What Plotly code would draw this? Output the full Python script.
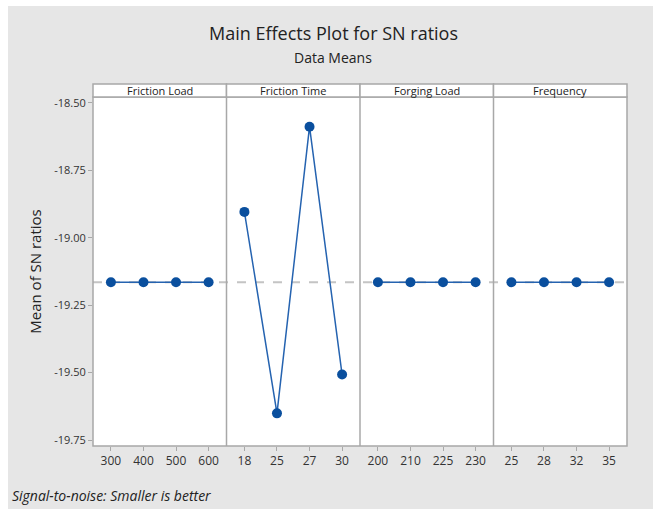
import plotly.graph_objects as go
from plotly.subplots import make_subplots

factors = ["Friction Load", "Friction Time", "Forging Load", "Frequency"]
levels = [
    ["300", "400", "500", "600"],
    ["18", "25", "27", "30"],
    ["200", "210", "225", "230"],
    ["25", "28", "32", "35"],
]
sn_means = [
    [-19.165, -19.165, -19.165, -19.165],
    [-18.904, -19.651, -18.588, -19.507],
    [-19.165, -19.165, -19.165, -19.165],
    [-19.165, -19.165, -19.165, -19.165],
]
overall_mean = -19.165
y_ticks = [-18.50, -18.75, -19.00, -19.25, -19.50, -19.75]
y_tick_text = ["%.2f" % v for v in y_ticks]

FONT = "Open Sans"
W, H = 653, 509
L, R, T, B = 93, 26, 97, 63
pw, ph = W - L - R, H - T - B
BORDER = "#a8a8a8"

def px_x(px):
    return (px - L) / pw

def px_y(py):
    return (H - B - py) / ph

fig = make_subplots(rows=1, cols=4, shared_yaxes=True, horizontal_spacing=0)

for i in range(4):
    fig.add_trace(go.Scatter(
        x=levels[i], y=sn_means[i], mode="lines+markers",
        line=dict(color="#2563b0", width=1.5),
        marker=dict(color="#0a4f9e", size=10),
        showlegend=False, hoverinfo="x+y"), row=1, col=i + 1)
    fig.update_xaxes(
        type="category", range=[-0.55, 3.55], showgrid=False, zeroline=False,
        showline=False, ticks="outside", ticklen=4, tickcolor=BORDER,
        tickfont=dict(family=FONT, size=12, color="#333333"),
        row=1, col=i + 1)

fig.update_yaxes(
    range=[-19.772, -18.478], showgrid=False, zeroline=False, showline=False)
fig.update_yaxes(
    tickvals=y_ticks, ticktext=y_tick_text, ticks="outside", ticklen=4,
    tickcolor=BORDER, tickfont=dict(family=FONT, size=11, color="#333333"),
    title=dict(text="Mean of SN ratios", standoff=8,
               font=dict(family=FONT, size=15, color="#222222")),
    row=1, col=1)

shapes = []
# white strips at top / left of the image
shapes.append(dict(type="rect", xref="paper", yref="paper",
                   x0=px_x(0), x1=px_x(W), y0=px_y(6), y1=px_y(0),
                   fillcolor="white", line=dict(width=0), layer="below"))
shapes.append(dict(type="rect", xref="paper", yref="paper",
                   x0=px_x(0), x1=px_x(8), y0=px_y(H), y1=px_y(0),
                   fillcolor="white", line=dict(width=0), layer="below"))
# overall mean reference line
shapes.append(dict(type="line", xref="paper", yref="y", x0=0, x1=1,
                   y0=overall_mean, y1=overall_mean,
                   line=dict(color="#c4c4c4", width=2, dash="dash"), layer="below"))
# plot frame and panel separators
shapes.append(dict(type="rect", xref="paper", yref="paper", x0=0, x1=1, y0=0, y1=1,
                   line=dict(color=BORDER, width=1.5), fillcolor="rgba(0,0,0,0)"))
for i in range(1, 4):
    shapes.append(dict(type="line", xref="paper", yref="paper", x0=i / 4, x1=i / 4,
                       y0=0, y1=1, line=dict(color=BORDER, width=1.5)))

annotations = []
hdr_top = px_y(84)
for i in range(4):
    x0 = i / 4
    x1 = (i + 1) / 4
    shapes.append(dict(type="rect", xref="paper", yref="paper",
                       x0=x0, x1=x1, y0=1, y1=hdr_top,
                       fillcolor="white", line=dict(color=BORDER, width=1.5)))
    annotations.append(dict(text=factors[i], xref="paper", yref="paper",
                            x=(x0 + x1) / 2, y=(1 + hdr_top) / 2,
                            showarrow=False, xanchor="center", yanchor="middle",
                            font=dict(family=FONT, size=11, color="#222222")))

annotations.append(dict(text="Main Effects Plot for SN ratios", xref="paper", yref="paper",
                        x=px_x(333), y=px_y(33), showarrow=False,
                        xanchor="center", yanchor="middle",
                        font=dict(family=FONT, size=18, color="#222222")))
annotations.append(dict(text="Data Means", xref="paper", yref="paper",
                        x=px_x(333), y=px_y(57), showarrow=False,
                        xanchor="center", yanchor="middle",
                        font=dict(family=FONT, size=14, color="#222222")))
annotations.append(dict(text="<i>Signal-to-noise: Smaller is better</i>", xref="paper",
                        yref="paper", x=px_x(10), y=px_y(495), showarrow=False,
                        xanchor="left", yanchor="middle",
                        font=dict(family=FONT, size=14, color="#222222")))

fig.update_layout(
    width=W, height=H, margin=dict(l=L, r=R, t=T, b=B),
    paper_bgcolor="#e6e6e6", plot_bgcolor="white",
    shapes=shapes, annotations=annotations, showlegend=False,
    font=dict(family=FONT))

fig.write_html("out.html", config={"displayModeBar": False},
               post_script="document.body.style.margin='0';document.body.style.overflow='hidden';")
